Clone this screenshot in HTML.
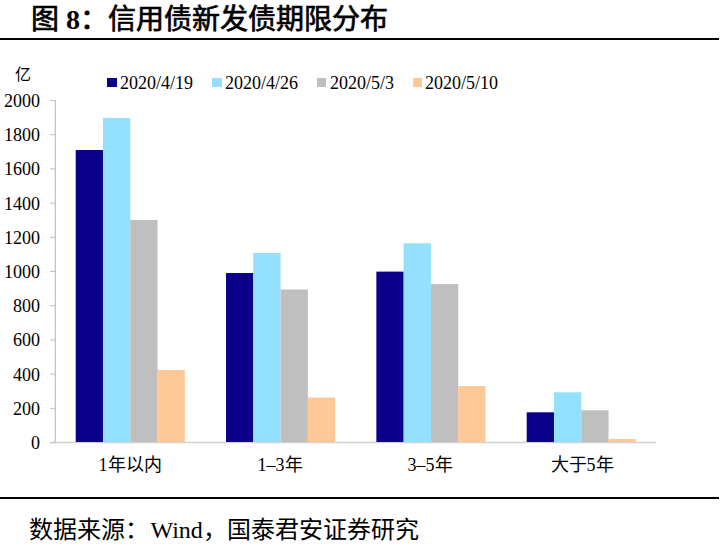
<!DOCTYPE html>
<html lang="zh-CN"><head><meta charset="utf-8">
<style>
html,body{margin:0;padding:0;background:#fff;}
body{width:721px;height:546px;position:relative;overflow:hidden;font-family:"Liberation Serif",serif;color:#000;}
.t{position:absolute;white-space:nowrap;line-height:1;}
.title{left:31px;top:6px;font-size:28px;font-weight:normal;-webkit-text-stroke:0.7px #000;}
.title b{-webkit-text-stroke:0;}
.hr{position:absolute;left:0;width:719px;height:2px;background:#000;}
.yl{position:absolute;right:681px;font-size:18px;line-height:22px;text-align:right;white-space:nowrap;}
.leg{position:absolute;top:74px;font-size:18px;line-height:18px;white-space:nowrap;}
.sq{position:absolute;top:78px;width:10px;height:9px;}
.cat{position:absolute;top:456px;font-size:18px;font-weight:300;line-height:18px;white-space:nowrap;transform:translateX(-50%);}
.src{left:29px;top:518px;font-size:24px;font-weight:300;}
svg{position:absolute;left:0;top:0;}
</style></head><body>
<div class="t title">图 <b>8</b>：信用债新发债期限分布</div>
<div class="hr" style="top:38px"></div>
<div class="t" style="left:15px;top:67px;font-size:16px;font-weight:300">亿</div>
<div class="sq" style="left:107px;background:#0B0089"></div><div class="leg" style="left:120px">2020/4/19</div>
<div class="sq" style="left:212px;background:#93E1FF"></div><div class="leg" style="left:225px">2020/4/26</div>
<div class="sq" style="left:317px;width:9px;background:#BFBFBF"></div><div class="leg" style="left:330px">2020/5/3</div>
<div class="sq" style="left:413px;width:9px;background:#FFC897"></div><div class="leg" style="left:425px">2020/5/10</div>
<div class="yl" style="top:432.0px">0</div>
<div class="yl" style="top:397.8px">200</div>
<div class="yl" style="top:363.6px">400</div>
<div class="yl" style="top:329.4px">600</div>
<div class="yl" style="top:295.2px">800</div>
<div class="yl" style="top:260.9px">1000</div>
<div class="yl" style="top:226.7px">1200</div>
<div class="yl" style="top:192.5px">1400</div>
<div class="yl" style="top:158.3px">1600</div>
<div class="yl" style="top:124.1px">1800</div>
<div class="yl" style="top:89.9px">2000</div>

<svg width="721" height="546" viewBox="0 0 721 546">
<g stroke="#BFBFBF" stroke-width="1">
<line x1="55.3" y1="100" x2="55.3" y2="443" stroke-width="1.2"/>
<line x1="50" y1="442.45" x2="656" y2="442.45" stroke="#D2D2D2" stroke-width="1.4"/>
<line x1="50" y1="442.60" x2="55.8" y2="442.60"/>
<line x1="50" y1="408.39" x2="55.8" y2="408.39"/>
<line x1="50" y1="374.18" x2="55.8" y2="374.18"/>
<line x1="50" y1="339.97" x2="55.8" y2="339.97"/>
<line x1="50" y1="305.76" x2="55.8" y2="305.76"/>
<line x1="50" y1="271.55" x2="55.8" y2="271.55"/>
<line x1="50" y1="237.34" x2="55.8" y2="237.34"/>
<line x1="50" y1="203.13" x2="55.8" y2="203.13"/>
<line x1="50" y1="168.92" x2="55.8" y2="168.92"/>
<line x1="50" y1="134.71" x2="55.8" y2="134.71"/>
<line x1="50" y1="100.50" x2="55.8" y2="100.50"/>

</g>
<rect x="75.70" y="150" width="27.28" height="292.00" fill="#0B0089"/>
<rect x="102.98" y="118" width="27.28" height="324.00" fill="#93E1FF"/>
<rect x="130.26" y="220" width="27.28" height="222.00" fill="#BFBFBF"/>
<rect x="157.54" y="370" width="27.28" height="72.00" fill="#FFC897"/>
<rect x="226.03" y="273" width="27.28" height="169.00" fill="#0B0089"/>
<rect x="253.31" y="253" width="27.28" height="189.00" fill="#93E1FF"/>
<rect x="280.59" y="289.5" width="27.28" height="152.50" fill="#BFBFBF"/>
<rect x="307.87" y="397.5" width="27.28" height="44.50" fill="#FFC897"/>
<rect x="376.36" y="271.6" width="27.28" height="170.40" fill="#0B0089"/>
<rect x="403.64" y="243.3" width="27.28" height="198.70" fill="#93E1FF"/>
<rect x="430.92" y="284.1" width="27.28" height="157.90" fill="#BFBFBF"/>
<rect x="458.20" y="386" width="27.28" height="56.00" fill="#FFC897"/>
<rect x="526.69" y="412.3" width="27.28" height="29.70" fill="#0B0089"/>
<rect x="553.97" y="392.3" width="27.28" height="49.70" fill="#93E1FF"/>
<rect x="581.25" y="410.3" width="27.28" height="31.70" fill="#BFBFBF"/>
<rect x="608.53" y="439" width="27.28" height="3.00" fill="#FFC897"/>

</svg>
<div class="cat" style="left:130px">1年以内</div>
<div class="cat" style="left:280px">1–3年</div>
<div class="cat" style="left:430px">3–5年</div>
<div class="cat" style="left:582px">大于5年</div>
<div class="hr" style="top:497px"></div>
<div class="t src">数据来源：<span style="margin-left:1.5px">Wind</span>，国泰君安证券研究</div>
</body></html>
